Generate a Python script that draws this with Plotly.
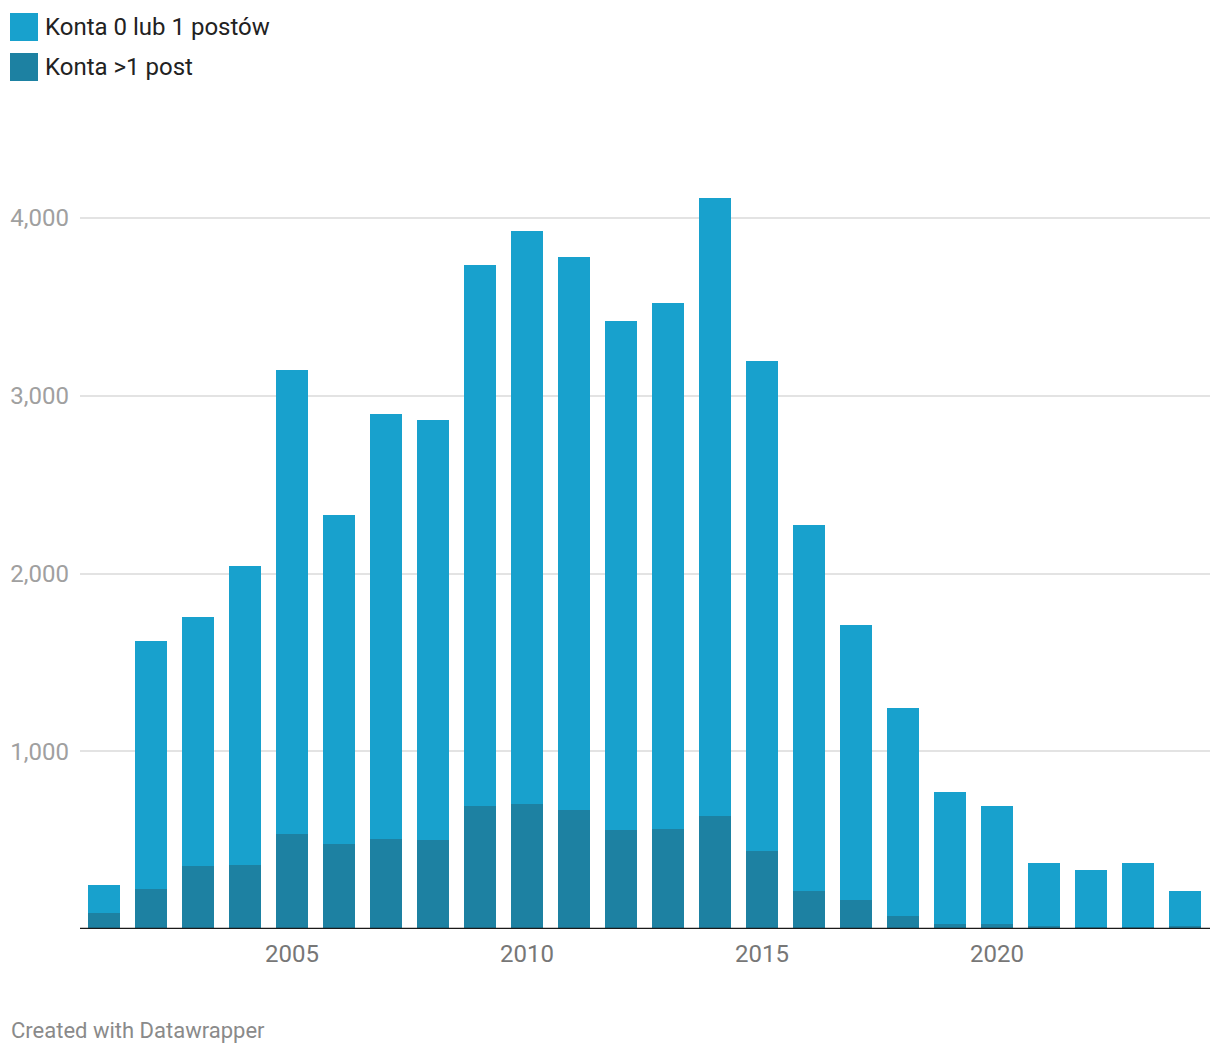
import plotly.graph_objects as go

years = list(range(2001, 2025))
totals = [247, 1620, 1755, 2042, 3145, 2329, 2897, 2864, 3735, 3927, 3781, 3420,
          3522, 4112, 3196, 2273, 1710, 1243, 771, 692, 371, 332, 371, 214]
multi_post = [90, 225, 354, 360, 534, 478, 506, 500, 692, 703, 669, 557,
              563, 636, 439, 214, 163, 73, 28, 28, 17, 11, 11, 17]
zero_one = [t - m for t, m in zip(totals, multi_post)]

series_names = ["Konta 0 lub 1 postów", "Konta >1 post"]
colors = ["#18a1cd", "#1d81a2"]
y_ticks = [1000, 2000, 3000, 4000]
x_ticks = [2005, 2010, 2015, 2020]

# page body margin offsets
OX, OY = 8, 7
W, H = 1220 - OX, 1052 - OY
L, R, T, B = 80 - OX, 10, 120 - OY, 1052 - 928
pw, ph = W - L - R, H - T - B

def px(x):
    return (x - OX - L) / pw

def py(y):
    return (H - B - (y - OY)) / ph

fig = go.Figure()
fig.add_bar(x=years, y=multi_post, name=series_names[1], marker_color=colors[1],
            marker_line_width=0, width=0.68)
fig.add_bar(x=years, y=zero_one, name=series_names[0], marker_color=colors[0],
            marker_line_width=0, width=0.68)

shapes = []
annotations = []
for i, (nm, c) in enumerate(zip(series_names, colors)):
    y0 = 12 + i * 40
    shapes.append(dict(type="rect", xref="paper", yref="paper",
                       x0=px(10), x1=px(38), y0=py(y0 + 28), y1=py(y0),
                       fillcolor=c, line_width=0))
    annotations.append(dict(text=nm, xref="paper", yref="paper", x=px(43), y=py(y0 + 14),
                            xanchor="left", yanchor="middle", showarrow=False,
                            font=dict(size=24, color="#222", family="Roboto")))
shapes.append(dict(type="line", xref="paper", yref="y", x0=0, x1=1, y0=0, y1=0,
                   line=dict(color="#1a1a1a", width=2.5)))
annotations.append(dict(text="Created with Datawrapper", xref="paper", yref="paper",
                        x=px(9), y=py(1029), xanchor="left", yanchor="middle",
                        showarrow=False, font=dict(size=22, color="#8a8a8a", family="Roboto")))

fig.update_layout(
    width=W, height=H, barmode="stack", showlegend=False,
    margin=dict(l=L, r=R, t=T, b=B, autoexpand=False),
    paper_bgcolor="white", plot_bgcolor="white",
    bargap=0,
    font=dict(family="Roboto"),
    xaxis=dict(range=[2000.49, 2024.53], tickvals=x_ticks, ticktext=[str(v) for v in x_ticks],
               showgrid=False, zeroline=False, showline=False, ticks="",
               tickfont=dict(size=24, color="#777"), ticklabelstandoff=8),
    yaxis=dict(range=[0, 4546], tickvals=y_ticks, ticktext=[f"{v:,}" for v in y_ticks],
               showgrid=True, gridcolor="#e3e3e3", gridwidth=1.5, zeroline=False,
               showline=False, ticks="", tickfont=dict(size=24, color="#a0a0a0"),
               ticklabelstandoff=10),
    shapes=shapes, annotations=annotations,
)
fig.write_html("out.html")
